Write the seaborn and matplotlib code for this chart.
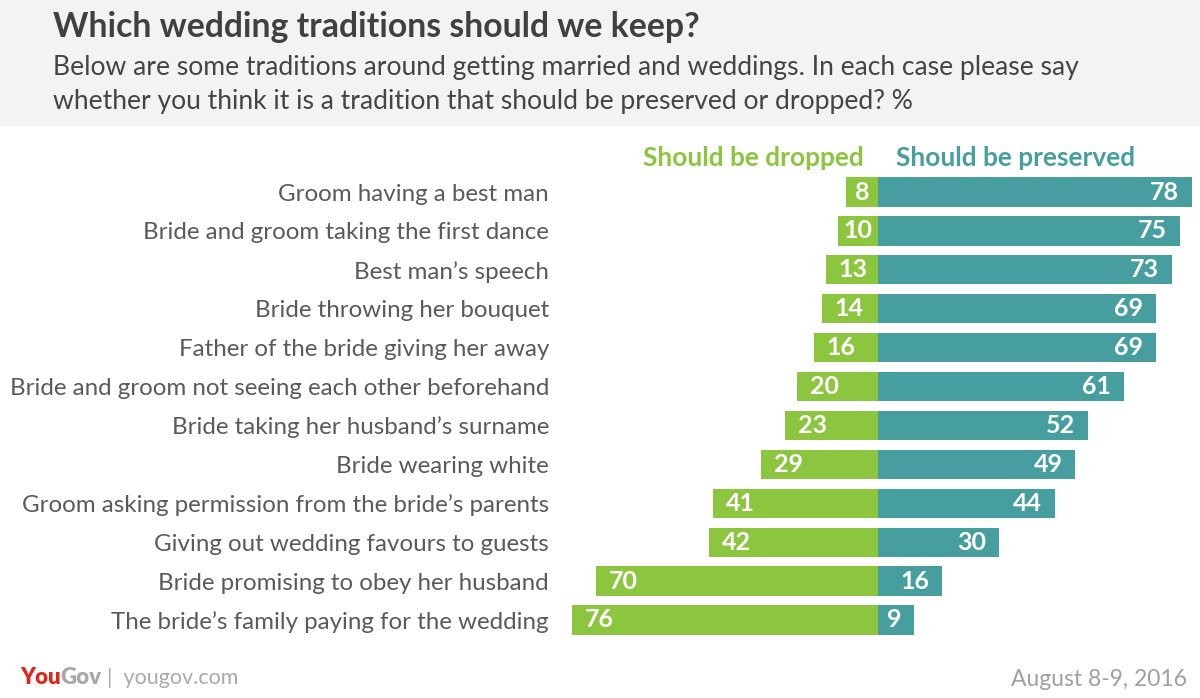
import pandas as pd
import matplotlib.pyplot as plt
import seaborn as sns
from matplotlib.patches import Rectangle

# ---------------------------
# DATA
# ---------------------------
traditions = [
    "Groom having a best man",
    "Bride and groom taking the first dance",
    "Best man\u2019s speech",
    "Bride throwing her bouquet",
    "Father of the bride giving her away",
    "Bride and groom not seeing each other beforehand",
    "Bride taking her husband\u2019s surname",
    "Bride wearing white",
    "Groom asking permission from the bride\u2019s parents",
    "Giving out wedding favours to guests",
    "Bride promising to obey her husband",
    "The bride\u2019s family paying for the wedding",
]
dropped = [8, 10, 13, 14, 16, 20, 23, 29, 41, 42, 70, 76]
preserved = [78, 75, 73, 69, 69, 61, 52, 49, 44, 30, 16, 9]

GREEN = "#8cc63f"
TEAL = "#469e9e"
TEXT = "#5a5a5a"

df = pd.DataFrame({"tradition": traditions, "dropped": dropped, "preserved": preserved})
df["dropped_neg"] = -df["dropped"]

# ---------------------------
# FIGURE
# ---------------------------
sns.set_style("white")
plt.rcParams["font.family"] = ["Lato", "DejaVu Sans"]

W, H = 1200, 698
fig = plt.figure(figsize=(W / 100, H / 100), dpi=100)

# grey header band
fig.patches.append(Rectangle((0, 1 - 125 / H), 1, 125 / H, transform=fig.transFigure,
                             color="#f2f3f3", zorder=0))

fig.text(53 / W, 1 - 27 / H, "Which wedding traditions should we keep?", fontsize=24.3,
         fontweight="bold", color="#404040", va="center", ha="left")
fig.text(53 / W, 1 - 68 / H,
         "Below are some traditions around getting married and weddings. In each case please say",
         fontsize=19.1, color="#444444", va="center", ha="left")
fig.text(53 / W, 1 - 101 / H,
         "whether you think it is a tradition that should be preserved or dropped? %",
         fontsize=19.1, color="#444444", va="center", ha="left")

# axes: centre line at x=878px, ~4.03 px per percentage point
px_per = 4.03
ax_left, ax_right = 560, 1200
row_top, row_bot = 172.55, 639.45
ax = fig.add_axes([ax_left / W, 1 - row_bot / H, (ax_right - ax_left) / W, (row_bot - row_top) / H])

sns.barplot(data=df, x="preserved", y="tradition", color=TEAL, width=0.75,
            saturation=1, orient="h", linewidth=0, ax=ax)
sns.barplot(data=df, x="dropped_neg", y="tradition", color=GREEN, width=0.75,
            saturation=1, orient="h", linewidth=0, ax=ax)

ax.set_xlim((ax_left - 878) / px_per, (ax_right - 878) / px_per)
ax.set_ylim(len(traditions) - 0.5, -0.5)
ax.set_xlabel("")
ax.set_ylabel("")
ax.set_xticks([])
for s in ax.spines.values():
    s.set_visible(False)
ax.tick_params(axis="y", length=0, pad=8)
for lbl in ax.get_yticklabels():
    lbl.set_fontsize(17.4)
    lbl.set_color(TEXT)

# value labels
pad = 13 / px_per
for i, (d, p) in enumerate(zip(dropped, preserved)):
    if d <= 12:
        ax.text(-d / 2, i, str(d), ha="center", va="center", color="white",
                fontsize=18, fontweight="bold")
    else:
        ax.text(-d + pad, i, str(d), ha="left", va="center", color="white",
                fontsize=18, fontweight="bold")
    ax.text(p - pad, i, str(p), ha="right", va="center", color="white",
            fontsize=18, fontweight="bold")

# column headers
fig.text(864 / W, 1 - 158 / H, "Should be dropped", color=GREEN, fontsize=18.9,
         fontweight="bold", ha="right", va="center")
fig.text(896 / W, 1 - 158 / H, "Should be preserved", color=TEAL, fontsize=18.9,
         fontweight="bold", ha="left", va="center")

# footer
you = fig.text(20 / W, 1 - 677 / H, "You", color="#e1251b", fontsize=16,
               fontweight="heavy", ha="left", va="center")
gov = ax.annotate("Gov", xy=(1, 0), xycoords=you, xytext=(0, 0), textcoords="offset points",
                  color="#a7a7a7", fontsize=16, fontweight="heavy", ha="left", va="bottom")
ax.annotate("|  yougov.com", xy=(1, 0), xycoords=gov, xytext=(4, 0), textcoords="offset points",
            color="#aaaaaa", fontsize=15.5, ha="left", va="bottom")
fig.text(1187 / W, 1 - 679 / H, "August 8-9, 2016", color="#a0a0a0", fontsize=16.5,
         ha="right", va="center")

fig.savefig("out.png", dpi=100)
